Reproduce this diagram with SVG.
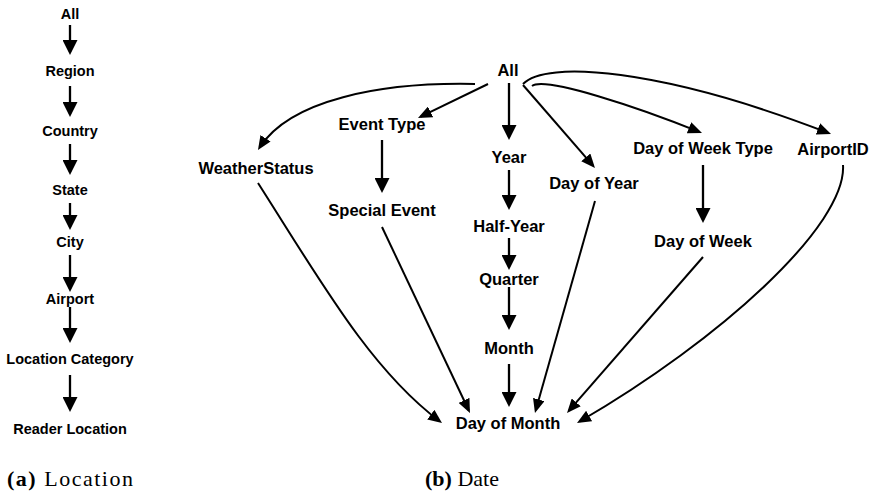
<svg xmlns="http://www.w3.org/2000/svg" width="874" height="495" viewBox="0 0 874 495">
  <style>
    .lbl { font-family: "Liberation Sans", Arial, sans-serif; font-weight: bold; fill: #000; text-anchor: middle; }
    .sm { font-size: 14.5px; }
    .lg { font-size: 16.5px; }
    .cap { font-family: "Liberation Serif", "Times New Roman", serif; font-size: 22px; fill: #000; }
    .v { stroke: #000; stroke-width: 2.3; fill: none; marker-end: url(#big); }
    .c { stroke: #000; stroke-width: 2; fill: none; marker-end: url(#small); }
  </style>
  <defs>
    <marker id="big" markerUnits="userSpaceOnUse" markerWidth="15" markerHeight="15" viewBox="0 0 15 15" refX="12" refY="7.5" orient="auto">
      <path d="M0,0 L15,7.5 L0,15 z" fill="#000"/>
    </marker>
    <marker id="small" markerUnits="userSpaceOnUse" markerWidth="14" markerHeight="12" viewBox="0 0 14 12" refX="11" refY="6" orient="auto">
      <path d="M0,0 L14,6 L0,12 z" fill="#000"/>
    </marker>
  </defs>

  <!-- Location hierarchy -->
  <g id="loc-all" class="lbl sm"><text x="70" y="19">All</text></g>
  <g id="loc-region" class="lbl sm"><text x="70" y="76">Region</text></g>
  <g id="loc-country" class="lbl sm"><text x="70" y="136">Country</text></g>
  <g id="loc-state" class="lbl sm"><text x="70" y="195">State</text></g>
  <g id="loc-city" class="lbl sm"><text x="70" y="247">City</text></g>
  <g id="loc-airport" class="lbl sm"><text x="70" y="304">Airport</text></g>
  <g id="loc-category" class="lbl sm"><text x="70" y="364">Location Category</text></g>
  <g id="loc-reader" class="lbl sm"><text x="70" y="434">Reader Location</text></g>

  <!-- Date hierarchy -->
  <g id="date-all" class="lbl lg"><text x="508" y="76">All</text></g>
  <g id="date-eventtype" class="lbl lg"><text x="382" y="130">Event Type</text></g>
  <g id="date-weather" class="lbl lg"><text x="256" y="174">WeatherStatus</text></g>
  <g id="date-year" class="lbl lg"><text x="509" y="163">Year</text></g>
  <g id="date-special" class="lbl lg"><text x="382" y="216">Special Event</text></g>
  <g id="date-halfyear" class="lbl lg"><text x="509" y="232">Half-Year</text></g>
  <g id="date-quarter" class="lbl lg"><text x="509" y="285">Quarter</text></g>
  <g id="date-month" class="lbl lg"><text x="509" y="354">Month</text></g>
  <g id="date-dayofmonth" class="lbl lg"><text x="508" y="429">Day of Month</text></g>
  <g id="date-dayofyear" class="lbl lg"><text x="594" y="189">Day of Year</text></g>
  <g id="date-dowtype" class="lbl lg"><text x="703" y="154">Day of Week Type</text></g>
  <g id="date-airportid" class="lbl lg"><text x="833" y="155">AirportID</text></g>
  <g id="date-dayofweek" class="lbl lg"><text x="703" y="247">Day of Week</text></g>

  <!-- Connectors -->
  <g id="connectors">
    <!-- location chain -->
    <line class="v" x1="70" y1="25" x2="70" y2="52"/>
    <line class="v" x1="70" y1="86" x2="70" y2="114"/>
    <line class="v" x1="70" y1="144" x2="70" y2="172"/>
    <line class="v" x1="70" y1="203" x2="70" y2="227"/>
    <line class="v" x1="70" y1="255" x2="70" y2="289"/>
    <line class="v" x1="70" y1="307" x2="70" y2="340"/>
    <line class="v" x1="70" y1="375" x2="70" y2="409"/>

    <!-- date: calendar chain -->
    <line class="v" x1="509" y1="83" x2="509" y2="137"/>
    <line class="v" x1="509" y1="170" x2="509" y2="207"/>
    <line class="v" x1="509" y1="238" x2="509" y2="267"/>
    <line class="v" x1="509" y1="287" x2="509" y2="327"/>
    <line class="v" x1="509" y1="364" x2="509" y2="404"/>
    <line class="v" x1="382" y1="140" x2="382" y2="190"/>
    <line class="v" x1="703" y1="165" x2="703" y2="220"/>

    <!-- date: from All -->
    <path class="c" d="M475,84 C380,82 290,100 259.6,147.5"/>
    <line class="c" x1="488" y1="84" x2="420.7" y2="116.7"/>
    <line class="c" x1="523" y1="85" x2="593" y2="165.7"/>
    <path class="c" d="M532,86 C545,76 640,108 699.2,131.9"/>
    <path class="c" d="M523,84 C545,60 660,68 828.2,132.9"/>

    <!-- date: into Day of Month -->
    <path class="c" d="M258,183 C320,280 370,369 439.6,421.2"/>
    <line class="c" x1="382" y1="227" x2="468.7" y2="410.3"/>
    <line class="c" x1="595" y1="201" x2="535.8" y2="410.1"/>
    <line class="c" x1="703" y1="257" x2="569" y2="410.7"/>
    <path class="c" d="M843,165 C847,225 720,340 579.6,421.5"/>
  </g>

  <!-- Captions -->
  <text class="cap" x="7" y="486" textLength="126" lengthAdjust="spacing"><tspan font-weight="bold">(a)</tspan> Location</text>
  <text class="cap" x="425" y="486"><tspan font-weight="bold">(b)</tspan> Date</text>
</svg>
